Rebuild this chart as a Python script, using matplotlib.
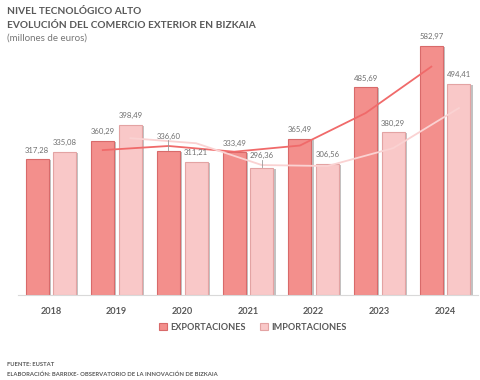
import matplotlib
matplotlib.use("Agg")
import matplotlib.pyplot as plt
import numpy as np

years = ["2018", "2019", "2020", "2021", "2022", "2023", "2024"]
exportaciones = [317.28, 360.29, 336.60, 333.49, 365.49, 485.69, 582.97]
importaciones = [335.08, 398.49, 311.21, 296.36, 306.56, 380.29, 494.41]
exp_labels = ["317,28", "360,29", "336,60", "333,49", "365,49", "485,69", "582,97"]
imp_labels = ["335,08", "398,49", "311,21", "296,36", "306,56", "380,29", "494,41"]

plt.rcParams['font.family'] = ['Lato', 'DejaVu Sans']

W, H = 481, 380
fig = plt.figure(figsize=(W/100, H/100), dpi=100)
ax = fig.add_axes([18/W, (H-294.7)/H, 460/W, 640*0.4268/H])

x = np.arange(len(years))
off, bw = 0.21, 0.35
exp_c, exp_e = "#F38F8C", "#D86A6A"
imp_c, imp_e = "#F9C8C8", "#E3A3A3"
sh = 2.2/65.7
ysh = 640/(640*0.4268)*1.0

# shadows
ax.bar(x - off + sh, np.array(exportaciones) - ysh, bw, color="#9a9a9a", alpha=0.6, zorder=1)
ax.bar(x + off + sh, np.array(importaciones) - ysh, bw, color="#9a9a9a", alpha=0.6, zorder=1)
ax.bar(x - off, exportaciones, bw, color=exp_c, edgecolor=exp_e, linewidth=0.8, zorder=2,
       label="EXPORTACIONES")
ax.bar(x + off, importaciones, bw, color=imp_c, edgecolor=imp_e, linewidth=0.8, zorder=2,
       label="IMPORTACIONES")

# 2-period moving average trend lines
exp_ma = (np.array(exportaciones[1:]) + np.array(exportaciones[:-1])) / 2
imp_ma = (np.array(importaciones[1:]) + np.array(importaciones[:-1])) / 2
ax.plot(x[1:] - off, exp_ma, color="#F06A6A", lw=1.3, zorder=3)
ax.plot(x[1:] + off, imp_ma, color="#FAD2D2", lw=1.3, zorder=3)

pu = 1/0.4268  # data units per pixel
extra_exp = [0, 0, 6, 0, 0, 0, 0]
extra_imp = [0, 0, 0, 3.5, 0, 0, 0]
for i in range(len(years)):
    for xv, v, lab, ex in ((x[i]-off, exportaciones[i], exp_labels[i], extra_exp[i]),
                           (x[i]+off, importaciones[i], imp_labels[i], extra_imp[i])):
        ty = v + (9 + ex) * pu
        ax.text(xv, ty, lab, ha="center", va="center", fontsize=5.6, color="#6f6f6f", zorder=5)
        if ex:
            ax.plot([xv, xv], [v + 1*pu, ty - 4*pu], color="#999999", lw=0.6, zorder=4)

ax.set_xlim(-0.5, 6.5)
ax.set_ylim(0, 640)
for s in ["top", "right", "left"]:
    ax.spines[s].set_visible(False)
ax.spines["bottom"].set_color("#D9D9D9")
ax.spines["bottom"].set_linewidth(0.8)
ax.set_yticks([])
ax.set_xticks(x)
ax.set_xticklabels(years, fontsize=6.6, color="#595959", fontweight="bold")
ax.tick_params(axis="x", length=0, pad=9)

leg = fig.legend(loc="center", bbox_to_anchor=(253/W, 1-327.5/H), ncol=2, frameon=False,
                 fontsize=6.6, handlelength=0.8, handleheight=0.8, columnspacing=1.6,
                 handletextpad=0.4)
for t in leg.get_texts():
    t.set_color("#595959")
    t.set_fontweight("bold")

fig.text(7/W, 1-12/H, "NIVEL TECNOLÓGICO ALTO", fontsize=7.3, fontweight="bold",
         color="#595959", va="center")
fig.text(7/W, 1-25.5/H, "EVOLUCIÓN DEL COMERCIO EXTERIOR EN BIZKAIA", fontsize=7.3,
         fontweight="bold", color="#595959", va="center")
fig.text(7/W, 1-38/H, "(millones de euros)", fontsize=7.0, color="#767676", va="center")
fig.text(7/W, 1-365/H, "FUENTE: EUSTAT", fontsize=4.25, fontweight="bold",
         color="#595959", va="center")
fig.text(7/W, 1-374/H, "ELABORACIÓN: BARRIXE- OBSERVATORIO DE LA INNOVACIÓN DE BIZKAIA",
         fontsize=4.25, fontweight="bold", color="#595959", va="center")

fig.savefig("out.png", dpi=100)
